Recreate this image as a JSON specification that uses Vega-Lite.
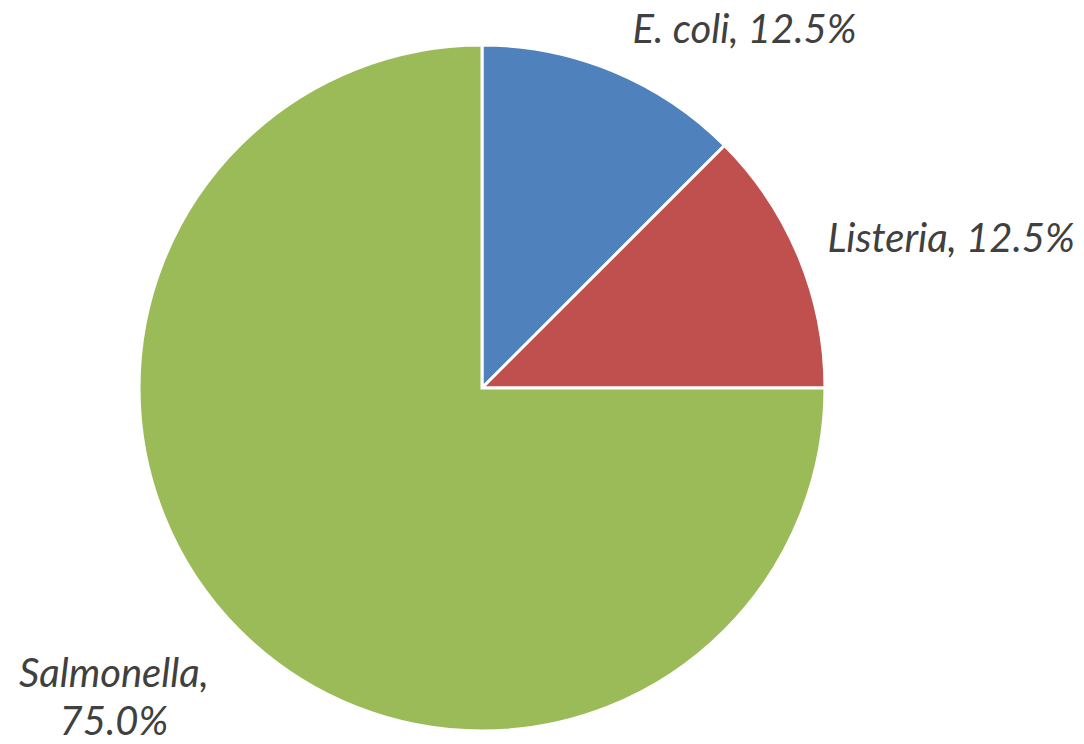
{
  "$schema": "https://vega.github.io/schema/vega-lite/v6.json",
  "width": 964,
  "height": 712,
  "autosize": {"type": "none"},
  "padding": {"left": 0, "top": 32, "right": 120, "bottom": 0},
  "background": "white",
  "config": {"view": {"stroke": null}},
  "data": {
    "values": [
      {"pathogen": "E. coli", "share": 12.5, "label": "E. coli, 12.5%"},
      {"pathogen": "Listeria", "share": 12.5, "label": "Listeria, 12.5%"},
      {"pathogen": "Salmonella", "share": 75.0, "label": "Salmonella,\n75.0%"}
    ]
  },
  "layer": [
    {
      "mark": {"type": "arc", "radius": 343, "stroke": "white", "strokeWidth": 3},
      "encoding": {
        "theta": {"field": "share", "type": "quantitative", "stack": true},
        "color": {
          "field": "pathogen",
          "type": "nominal",
          "scale": {"domain": ["E. coli", "Listeria", "Salmonella"], "range": ["#4F81BD", "#C0504D", "#9BBB59"]},
          "legend": null
        }
      }
    },
    {
      "mark": {"type": "text", "radius": 375, "align": "left", "baseline": "alphabetic", "dx": 7, "dy": 1, "font": "Lato", "fontStyle": "italic", "fontSize": 40, "color": "#404040"},
      "encoding": {
        "theta": {"field": "share", "type": "quantitative", "stack": true},
        "detail": {"field": "pathogen", "type": "nominal"},
        "text": {"condition": {"test": "datum.pathogen === 'E. coli'", "field": "label"}, "value": ""}
      }
    },
    {
      "mark": {"type": "text", "radius": 375, "align": "left", "baseline": "alphabetic", "dx": -1, "dy": 8, "font": "Lato", "fontStyle": "italic", "fontSize": 40, "color": "#404040"},
      "encoding": {
        "theta": {"field": "share", "type": "quantitative", "stack": true},
        "detail": {"field": "pathogen", "type": "nominal"},
        "text": {"condition": {"test": "datum.pathogen === 'Listeria'", "field": "label"}, "value": ""}
      }
    },
    {
      "mark": {"type": "text", "radius": 375, "align": "center", "baseline": "alphabetic", "dx": -103, "dy": 34, "lineBreak": "\n", "lineHeight": 48, "font": "Lato", "fontStyle": "italic", "fontSize": 40, "color": "#404040"},
      "encoding": {
        "theta": {"field": "share", "type": "quantitative", "stack": true},
        "detail": {"field": "pathogen", "type": "nominal"},
        "text": {"condition": {"test": "datum.pathogen === 'Salmonella'", "field": "label"}, "value": ""}
      }
    }
  ]
}
